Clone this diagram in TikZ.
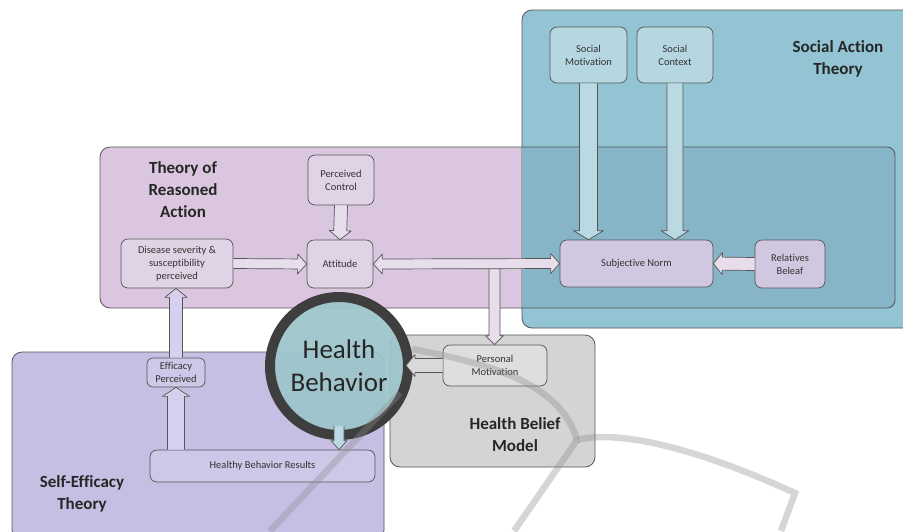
\documentclass[tikz,border=0pt]{standalone}
\usepackage{fontspec}
\setmainfont{Carlito}[Ligatures={NoCommon}]
\usetikzlibrary{calc}
\definecolor{traC}{HTML}{DAC6DE}
\definecolor{satC}{HTML}{93C4D3}
\definecolor{ovlC}{HTML}{87B5C8}
\definecolor{setC}{HTML}{C6BFE3}
\definecolor{hbmC}{HTML}{D4D4D4}
\definecolor{edgeC}{HTML}{555555}
\definecolor{nTra}{HTML}{DFD3E5}
\definecolor{nSoc}{HTML}{B6D7E1}
\definecolor{nLav}{HTML}{D0C8E1}
\definecolor{nSet}{HTML}{CEC7E7}
\definecolor{nGry}{HTML}{DEDEDE}
\definecolor{hbFill}{HTML}{9DC5CB}
\definecolor{hbRing}{HTML}{3E3E3E}
\definecolor{aTra}{HTML}{E7DDEB}
\definecolor{aSoc}{HTML}{BAD9E3}
\definecolor{aSet}{HTML}{D6CFEE}
\definecolor{aGry}{HTML}{D9D9D9}
\definecolor{wmC}{HTML}{8C8C8C}
\newcommand\barr[5]{%
  \coordinate (bh) at ($(#3)!9pt!(#2)$);
  \fill[#1] ($(#2)!#4!90:(#3)$) -- ($(bh)!#4!-90:(#2)$) -- ($(bh)!#5!-90:(#2)$) -- (#3)
     -- ($(bh)!#5!90:(#2)$) -- ($(bh)!#4!90:(#2)$) -- ($(#2)!#4!-90:(#3)$) -- cycle;
  \draw[aedge] ($(#2)!#4!90:(#3)$) -- ($(bh)!#4!-90:(#2)$) -- ($(bh)!#5!-90:(#2)$) -- (#3)
     -- ($(bh)!#5!90:(#2)$) -- ($(bh)!#4!90:(#2)$) -- ($(#2)!#4!-90:(#3)$);
}
\newcommand\dbarr[5]{%
  \coordinate (bha) at ($(#2)!9pt!(#3)$);
  \coordinate (bhb) at ($(#3)!9pt!(#2)$);
  \filldraw[#1,aedge] (#2) -- ($(bha)!#5!90:(#3)$) -- ($(bha)!#4!90:(#3)$)
     -- ($(bhb)!#4!-90:(#2)$) -- ($(bhb)!#5!-90:(#2)$) -- (#3)
     -- ($(bhb)!#5!90:(#2)$) -- ($(bhb)!#4!90:(#2)$)
     -- ($(bha)!#4!-90:(#3)$) -- ($(bha)!#5!-90:(#3)$) -- cycle;
}
\tikzset{
  aedge/.style={draw=edgeC, line width=0.7pt, line join=round},
  region/.style={draw=edgeC, line width=0.8pt, rounded corners=10pt},
  box/.style={draw=edgeC, line width=0.7pt, rounded corners=7pt, align=center,
     inner sep=1pt, font=\fontsize{10.5}{13}\selectfont, text=black!80},
  title/.style={align=center, font=\fontsize{17}{22}\selectfont\bfseries, text=black!85},
  wm/.style={draw=wmC, line width=6.5pt, opacity=0.35, line cap=butt},
}
\begin{document}
\begin{tikzpicture}[x=1pt,y=-1pt]
\useasboundingbox (0,0) rectangle (903,531);
\fill[white] (0,0) rectangle (903,531);
% regions
\draw[region, fill=traC] (100,147) rectangle (895,308);
\draw[region, fill=satC] (522,10) rectangle (925,328);
\begin{scope}
  \clip (522,10) rectangle (925,328);
  \draw[region, fill=ovlC, rounded corners=8pt] (500,147) rectangle (895,308);
\end{scope}
\draw[region, fill=setC] (12,352) rectangle (384,540);
\draw[region, fill=hbmC] (390,335) rectangle (595,467);
% titles
\node[title] (ttra) at (183,190) {Theory of\\Reasoned\\Action};
\node[title] (tsat) at (838,59) {Social Action\\Theory};
\node[title] (tset) at (82,494) {Self-Efficacy\\Theory};
\node[title] (thbm) at (515,435) {Health Belief\\Model};
% nodes
\node[box, fill=nTra, minimum width=66pt, minimum height=50pt] (pc) at (341,180) {Perceived\\Control};
\node[box, fill=nTra, minimum width=66pt, minimum height=48pt] (att) at (340,264) {Attitude};
\node[box, fill=nTra, minimum width=112pt, minimum height=49pt] (dis) at (177,263.5) {Disease severity \&\\susceptibility\\perceived};
\node[box, fill=nLav, minimum width=153pt, minimum height=47pt] (sn) at (636.5,263.5) {Subjective Norm};
\node[box, fill=nLav, minimum width=70pt, minimum height=48pt] (rb) at (790,264) {Relatives\\Beleaf};
\node[box, fill=nSoc, minimum width=77pt, minimum height=56pt] (sm) at (588.5,55) {Social\\Motivation};
\node[box, fill=nSoc, minimum width=76pt, minimum height=56pt] (sc) at (675,55) {Social\\Context};
\node[box, fill=nSet, minimum width=58pt, minimum height=29pt, rounded corners=6pt] (ep) at (176,372.5) {Efficacy\\Perceived};
\node[box, fill=nSet, minimum width=225pt, minimum height=32pt] (hbr) at (262.5,466) {Healthy Behavior Results};
\node[box, fill=nGry, minimum width=104pt, minimum height=41pt] (pm) at (495,365.5) {Personal\\Motivation};
% circle
\node[circle, draw=hbRing, line width=10pt, fill=hbFill, fill opacity=0.93, text opacity=1,
      minimum size=138pt, inner sep=0pt, align=center,
      font=\fontsize{27}{33}\selectfont, text=black!85] (hb) at (339,366) {Health\\Behavior};
% connector helper coordinates
\coordinate (smE) at (sn.north -| sm.south);
\coordinate (scE) at (sn.north -| sc.south);
\coordinate (disS) at (dis.south -| ep.north);
\coordinate (hbrN) at (hbr.north -| ep.south);
\coordinate (hbS) at ([yshift=14pt]hb.south);
\coordinate (hbrT) at (hbr.north -| hbS);
\coordinate (hbEt) at (406,365.5);
\coordinate (pmW) at (pm.west);
\coordinate (attE) at (att.east);
\coordinate (snW) at (sn.west);
\coordinate (jn) at (494.5,267.5);
\coordinate (pmN) at (pm.north -| jn);
% arrows
\barr{aTra}{pc.south}{att.north}{6.5pt}{11pt}
\barr{aTra}{dis.east}{att.west}{5pt}{10pt}
\barr{aTra}{jn}{pmN}{5.5pt}{9pt}
\dbarr{aTra}{attE}{snW}{5pt}{10pt}
\barr{aSoc}{sm.south}{smE}{9pt}{15pt}
\barr{aSoc}{sc.south}{scE}{8pt}{14pt}
\barr{aTra}{rb.west}{sn.east}{6.5pt}{11pt}
\barr{aGry}{pmW}{hbEt}{7pt}{11pt}
\barr{aSet}{ep.north}{disS}{6.5pt}{11pt}
\barr{aSet}{hbrN}{ep.south}{8.5pt}{13.5pt}
\barr{aSoc}{hbS}{hbrT}{5pt}{8pt}
% watermark
\draw[wm] (270,531) -- (400,393);
\draw[wm] (412,349) .. controls (480,362) and (560,380) .. (577,440);
\draw[wm] (577,440) -- (514,531);
\draw[wm] (577,440) .. controls (615,430) and (690,445) .. (795,493) -- (781,531);
\end{tikzpicture}
\end{document}
